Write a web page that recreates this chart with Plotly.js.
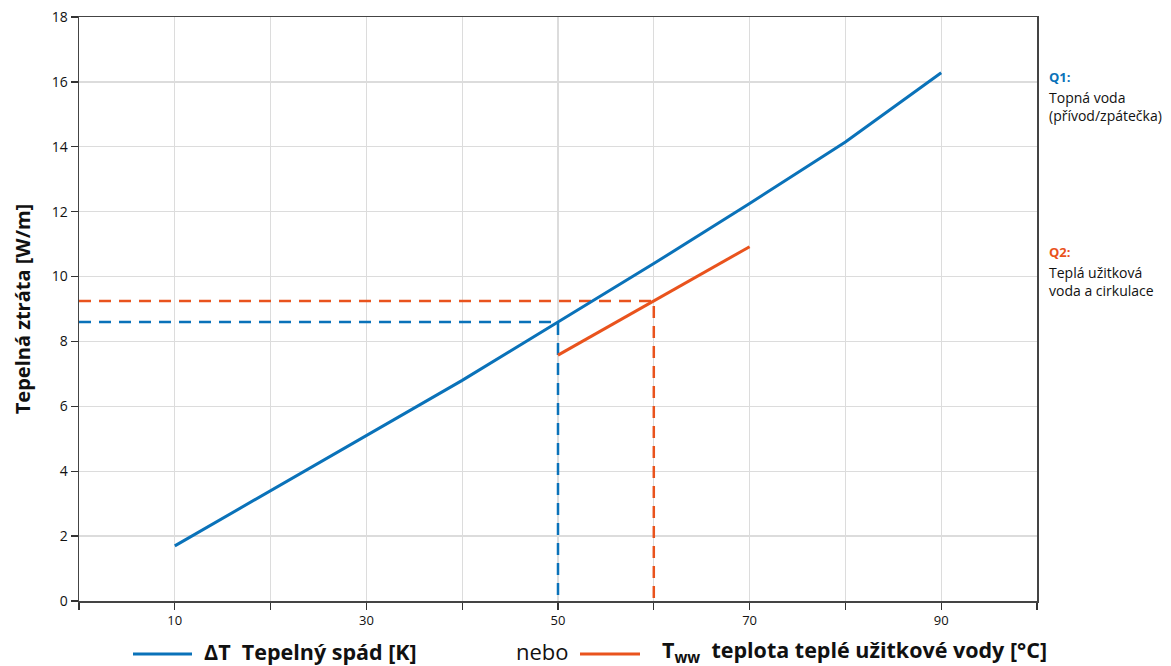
<!DOCTYPE html>
<html>
<head>
<meta charset="utf-8">
<script src="https://cdn.plot.ly/plotly-3.0.1.min.js"></script>
<style>html,body{margin:0;padding:0;background:#fff}#chart{width:1171px;height:666px}</style>
</head>
<body>
<div id="chart"></div>
<script>
// Data
const blueX = [10, 20, 30, 40, 50, 60, 70, 80, 90];
const blueY = [1.7, 3.4, 5.1, 6.8, 8.6, 10.4, 12.25, 14.15, 16.28];
const orangeX = [50, 60, 64.5, 70];
const orangeY = [7.58, 9.25, 9.98, 10.92];
const readBlueX = 50, readBlueY = 8.6;
const readOrangeX = 60, readOrangeY = 9.25;
const xTickVals = [0, 10, 20, 30, 40, 50, 60, 70, 80, 90, 100];
const xTickText = [' ', '10', ' ', '30', ' ', '50', ' ', '70', ' ', '90', ' '];
const yTickVals = [0, 2, 4, 6, 8, 10, 12, 14, 16, 18];

const BLUE = '#0a72b9';
const ORANGE = '#e9531d';
const FONT = 'Open Sans, Noto Sans, sans-serif';

const traces = [
  {x: [0, readOrangeX, readOrangeX], y: [readOrangeY, readOrangeY, 0], mode: 'lines',
   line: {color: ORANGE, width: 2.5, dash: '12px,8px'}, hoverinfo: 'skip'},
  {x: [0, readBlueX, readBlueX], y: [readBlueY, readBlueY, 0], mode: 'lines',
   line: {color: BLUE, width: 2.5, dash: '12px,8px'}, hoverinfo: 'skip'},
  {x: blueX, y: blueY, mode: 'lines', line: {color: BLUE, width: 3}},
  {x: orangeX, y: orangeY, mode: 'lines', line: {color: ORANGE, width: 3}}
];

const LEG_Y = -50/584;

const layout = {
  width: 1171, height: 666,
  margin: {l: 79, r: 134, t: 17, b: 65},
  showlegend: false,
  paper_bgcolor: '#fff', plot_bgcolor: '#fff',
  font: {family: FONT, color: '#111'},
  xaxis: {
    range: [0, 100], tickvals: xTickVals, ticktext: xTickText,
    showgrid: true, gridcolor: '#dcdcdc', gridwidth: 1.3,
    ticks: 'outside', ticklen: 7, tickcolor: '#333', tickwidth: 1.3,
    showline: true, linecolor: '#444', linewidth: 1.5, mirror: true,
    zeroline: false, tickfont: {size: 13, family: FONT, color: '#111'}
  },
  yaxis: {
    range: [0, 18], tickvals: yTickVals,
    showgrid: true, gridcolor: '#dcdcdc', gridwidth: 1.3,
    ticks: 'outside', ticklen: 7, tickcolor: '#333', tickwidth: 1.3,
    showline: true, linecolor: '#444', linewidth: 1.5, mirror: true,
    zeroline: false, tickfont: {size: 14, family: FONT, color: '#111'},
    title: {text: '<b>Tepelná ztráta [W/m]</b>', font: {size: 20, family: FONT, color: '#111'}, standoff: 15}
  },
  shapes: [
    {type: 'line', xref: 'paper', yref: 'paper', x0: (133-79)/958, x1: (192-79)/958, y0: -53/584, y1: -53/584,
     line: {color: BLUE, width: 3}},
    {type: 'line', xref: 'paper', yref: 'paper', x0: (580-79)/958, x1: (640-79)/958, y0: -53/584, y1: -53/584,
     line: {color: ORANGE, width: 3}}
  ],
  annotations: [
    {xref: 'paper', yref: 'paper', x: (202-79)/958, y: LEG_Y, xanchor: 'left', yanchor: 'middle', showarrow: false,
     text: '<b>ΔT  Tepelný spád [K]</b>', font: {size: 21.5, family: FONT, color: '#111'}},
    {xref: 'paper', yref: 'paper', x: (514-79)/958, y: LEG_Y, xanchor: 'left', yanchor: 'middle', showarrow: false,
     text: 'nebo', font: {size: 22, family: FONT, color: '#111'}},
    {xref: 'paper', yref: 'paper', x: (660-79)/958, y: LEG_Y, xanchor: 'left', yanchor: 'middle', showarrow: false,
     text: '<b>T<sub>ww</sub>  teplota teplé užitkové vody [°C]</b>', font: {size: 21.5, family: FONT, color: '#111'}},
    {xref: 'paper', yref: 'paper', x: (1047-79)/958, y: (601-77)/584, xanchor: 'left', yanchor: 'middle', showarrow: false,
     text: '<b>Q1:</b>', font: {size: 13, family: FONT, color: BLUE}},
    {xref: 'paper', yref: 'paper', x: (1047-79)/958, y: (601-107)/584, xanchor: 'left', yanchor: 'middle', showarrow: false, align: 'left',
     text: 'Topná voda<br>(přívod/zpátečka)', font: {size: 14, family: FONT, color: '#111'}},
    {xref: 'paper', yref: 'paper', x: (1047-79)/958, y: (601-252)/584, xanchor: 'left', yanchor: 'middle', showarrow: false,
     text: '<b>Q2:</b>', font: {size: 13, family: FONT, color: ORANGE}},
    {xref: 'paper', yref: 'paper', x: (1047-79)/958, y: (601-281)/584, xanchor: 'left', yanchor: 'middle', showarrow: false, align: 'left',
     text: 'Teplá užitková<br>voda a cirkulace', font: {size: 14, family: FONT, color: '#111'}}
  ]
};

Plotly.newPlot('chart', traces, layout, {displayModeBar: false, staticPlot: true});
</script>
</body>
</html>
